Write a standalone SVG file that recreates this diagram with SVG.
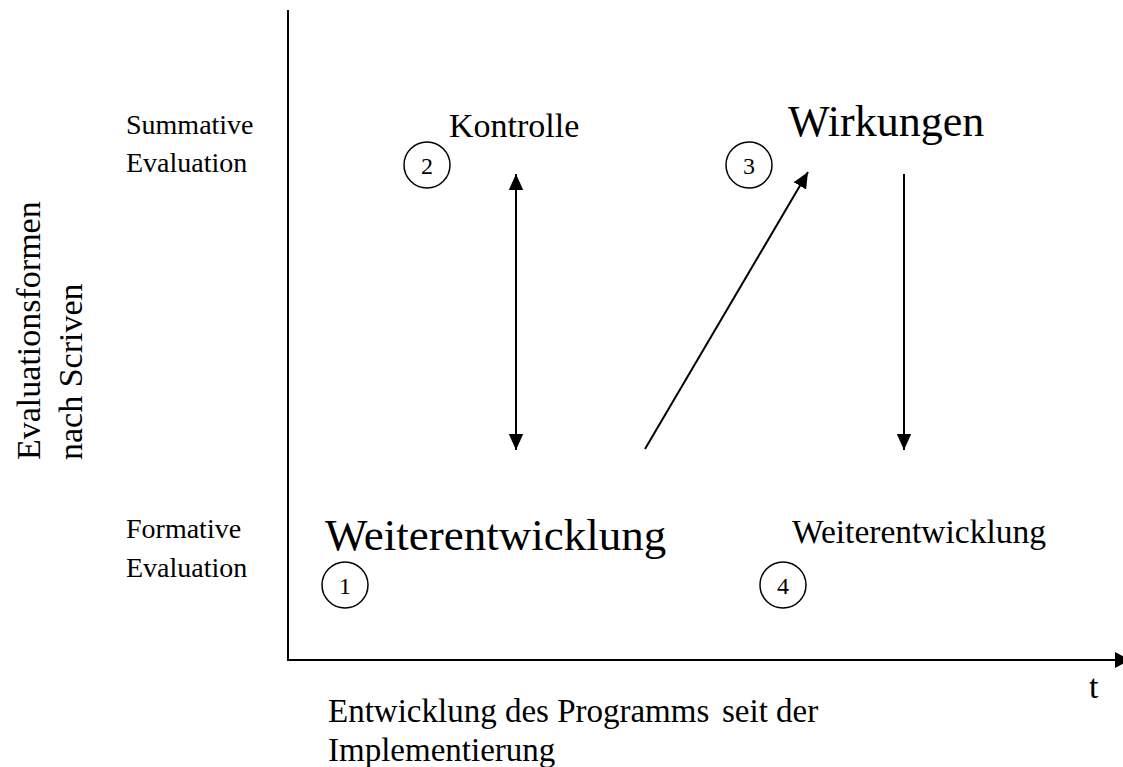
<svg xmlns="http://www.w3.org/2000/svg" width="1123" height="767" viewBox="0 0 1123 767">
<style>
text{font-family:"Liberation Serif","Times New Roman",serif;fill:#000}
.lbl{font-size:28px}
.num{font-size:24px;text-anchor:middle}
.c{fill:none;stroke:#000;stroke-width:1.5}
.ln{stroke:#000;stroke-width:2;fill:none}
</style>
<defs>
<marker id="ah" viewBox="0 0 10 10" refX="10" refY="5" markerWidth="8" markerHeight="8" markerUnits="strokeWidth" orient="auto-start-reverse">
<path d="M0,0.5 L10,5 L0,9.5 z" fill="#000"/>
</marker>
</defs>
<g id="axes">
<line class="ln" x1="288" y1="10" x2="288" y2="661"/>
<line class="ln" x1="287" y1="660" x2="1123" y2="660" stroke-width="3"/>
<path d="M1115,652 L1130,660 L1115,668 z" fill="#000"/>
</g>
<g id="axis-labels">
<text class="lbl" x="126" y="134">Summative</text>
<text class="lbl" x="126" y="172">Evaluation</text>
<text class="lbl" x="126" y="538">Formative</text>
<text class="lbl" x="126" y="577">Evaluation</text>
<text class="lbl" transform="translate(40,460) rotate(-90)" style="font-size:34px">Evaluationsformen</text>
<text class="lbl" transform="translate(82,460) rotate(-90)" style="font-size:34px">nach Scriven</text>
<text class="lbl" x="1089" y="698" style="font-size:34px">t</text>
<text class="lbl" x="328" y="722" style="font-size:33px">Entwicklung des Programms<tspan x="722">seit der</tspan></text>
<text class="lbl" x="328" y="761" style="font-size:33px">Implementierung</text>
</g>
<g id="node1">
<circle class="c" cx="345" cy="585" r="23"/>
<text class="num" x="345" y="594">1</text>
<text class="lbl" x="325" y="550" style="font-size:45px">Weiterentwicklung</text>
</g>
<g id="node2">
<circle class="c" cx="427" cy="165" r="23"/>
<text class="num" x="427" y="174">2</text>
<text class="lbl" x="449" y="137" style="font-size:34px">Kontrolle</text>
</g>
<g id="node3">
<circle class="c" cx="749" cy="165" r="23"/>
<text class="num" x="749" y="174">3</text>
<text class="lbl" x="788" y="136" style="font-size:44px">Wirkungen</text>
</g>
<g id="node4">
<circle class="c" cx="783" cy="585" r="23"/>
<text class="num" x="783" y="594">4</text>
<text class="lbl" x="792" y="543" style="font-size:33.5px">Weiterentwicklung</text>
</g>
<g id="connectors">
<line class="ln" x1="516" y1="174" x2="516" y2="450" marker-start="url(#ah)" marker-end="url(#ah)"/>
<line class="ln" x1="645" y1="449" x2="808" y2="172" marker-end="url(#ah)"/>
<line class="ln" x1="904" y1="174" x2="904" y2="450" marker-end="url(#ah)"/>
</g>
</svg>
